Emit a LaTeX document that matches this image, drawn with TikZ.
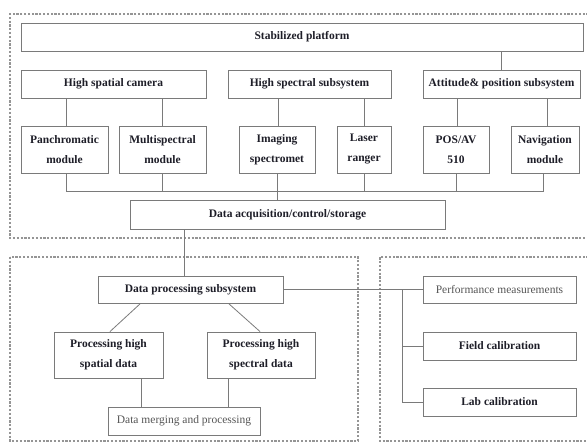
\documentclass[tikz,border=0pt]{standalone}
\usepackage{fontspec}
\setmainfont{Liberation Serif}
\usetikzlibrary{shapes,backgrounds}
\usetikzlibrary{arrows}
\definecolor{boxgray}{HTML}{7A7A7A}
\definecolor{txtdark}{HTML}{1E1E28}
\definecolor{txtgray}{HTML}{555555}
\begin{document}
\begin{tikzpicture}[x=1pt,y=-1pt,
  box/.style={draw=boxgray,line width=0.9pt,text=txtdark,inner sep=0pt,align=center,font=\fontsize{11.5}{20}\selectfont\bfseries},
  plainbox/.style={box,text=txtgray,font=\fontsize{11.5}{14}\selectfont},
  wire/.style={draw=boxgray,line width=0.8pt},
  frame/.style={draw=boxgray!80,line width=1.1pt,dash pattern=on 2.2pt off 1.6pt}]
\useasboundingbox (0,0) rectangle (587,442);
\draw[frame] (600,14) -- (10,14) -- (10,238) -- (600,238);
\draw[frame] (10,257) rectangle (358,441);
\draw[frame] (600,257) -- (380,257) -- (380,441) -- (600,441);
\node[box,minimum width=562pt,minimum height=28pt] (plat) at (302,37) {Stabilized platform};
\node[box,minimum width=185pt,minimum height=28pt] (spat) at (113.5,84) {High spatial camera};
\node[box,minimum width=163pt,minimum height=28pt] (spec) at (309.5,84) {High spectral subsystem};
\node[box,minimum width=157pt,minimum height=28pt] (att) at (501.5,84) {Attitude\& position subsystem};
\node[box,minimum width=87pt,minimum height=47pt] (pan) at (64.5,149.5) {Panchromatic\\module};
\node[box,minimum width=87pt,minimum height=47pt] (multi) at (162.5,149.5) {Multispectral\\module};
\node[box,minimum width=76pt,minimum height=47pt] (imag) at (277,149.5) {Imaging\\spectromet};
\node[box,minimum width=54pt,minimum height=47pt] (laser) at (364,149.5) {Laser\\ranger};
\node[box,minimum width=66pt,minimum height=47pt] (pos) at (456,149.5) {POS/AV\\510};
\node[box,minimum width=68pt,minimum height=47pt] (nav) at (545,149.5) {Navigation\\module};
\node[box,minimum width=315pt,minimum height=29pt] (acq) at (287.5,214.5) {Data acquisition/control/storage};
\node[box,minimum width=185pt,minimum height=27pt] (proc) at (190.5,289.5) {Data processing subsystem};
\node[box,minimum width=109pt,minimum height=46pt] (pspat) at (108.5,355) {Processing high\\spatial data};
\node[box,minimum width=108pt,minimum height=46pt] (pspec) at (261,355) {Processing high\\spectral data};
\node[plainbox,minimum width=152pt,minimum height=28pt] (merge) at (184,421) {Data merging and processing};
\node[plainbox,minimum width=153pt,minimum height=27pt] (perf) at (499.5,289.5) {Performance measurements};
\node[box,minimum width=153pt,minimum height=28pt] (field) at (499.5,346) {Field calibration};
\node[box,minimum width=153pt,minimum height=28pt] (lab) at (499.5,402) {Lab calibration};
\coordinate (bus) at (0,191);
\coordinate (br) at (402,289.5);
\draw[wire] (att.north) -- (att.north |- plat.south);
\draw[wire] ([xshift=1.5pt]pan.north) -- ([xshift=1.5pt]pan.north |- spat.south);
\draw[wire] (multi.north) -- (multi.north |- spat.south);
\draw[wire] ([xshift=1pt]imag.north) -- ([xshift=1pt]imag.north |- spec.south);
\draw[wire] (laser.north) -- (laser.north |- spec.south);
\draw[wire] ([xshift=1pt]pos.north) -- ([xshift=1pt]pos.north |- att.south);
\draw[wire] ([xshift=2pt]nav.north) -- ([xshift=2pt]nav.north |- att.south);
\draw[wire] ([xshift=1.5pt]pan.south) -- ([xshift=1.5pt]pan.south |- bus) -- ([xshift=-2pt]nav.south |- bus) -- ([xshift=-2pt]nav.south);
\draw[wire] (multi.south) -- (multi.south |- bus);
\draw[wire] (laser.south) -- (laser.south |- bus);
\draw[wire] (pos.south) -- (pos.south |- bus);
\draw[wire] (imag.south) -- (imag.south |- acq.north);
\draw[wire] ([xshift=-6.5pt]proc.north) -- ([xshift=-6.5pt]proc.north |- acq.south);
\draw[wire] ([xshift=-50pt]proc.south) -- ([xshift=1.5pt]pspat.north);
\draw[wire] ([xshift=38pt]proc.south) -- ([xshift=-1pt]pspec.north);
\draw[wire] ([xshift=32.5pt]pspat.south) -- ([xshift=32.5pt]pspat.south |- merge.north);
\draw[wire] ([xshift=-33pt]pspec.south) -- ([xshift=-33pt]pspec.south |- merge.north);
\draw[wire] (proc.east) -- (perf.west);
\draw[wire] (br) |- (field.west);
\draw[wire] (br) |- (lab.west);
\end{tikzpicture}
\end{document}
